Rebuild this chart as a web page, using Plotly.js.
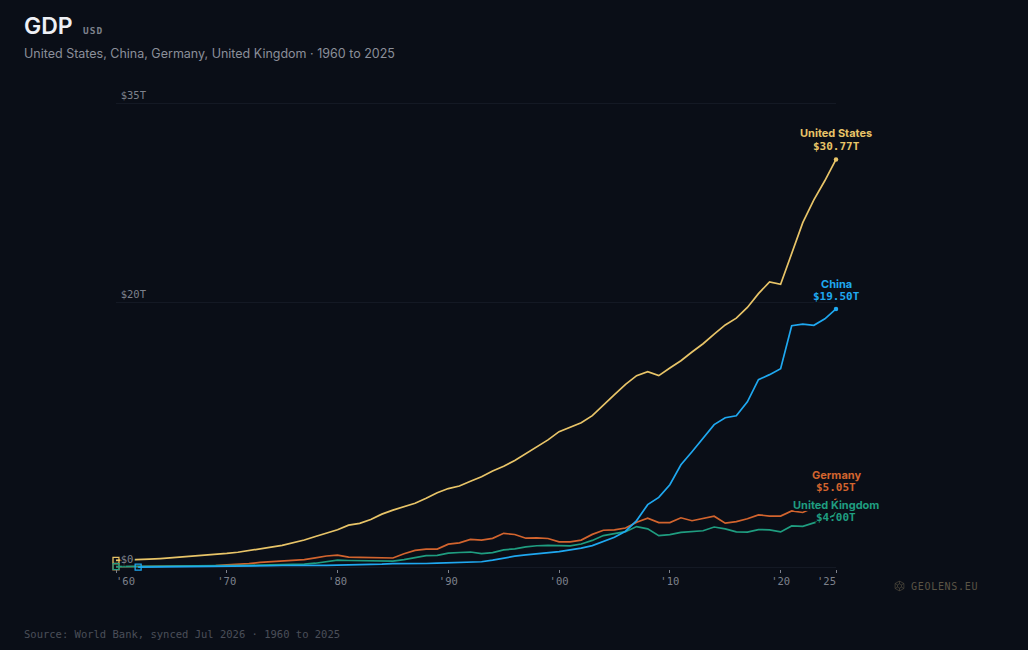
<!DOCTYPE html>
<html><head><meta charset="utf-8">
<script src="https://cdn.plot.ly/plotly-3.0.1.min.js"></script>
<style>html,body{margin:0;padding:0;background:#0a0e17}#c{width:1028px;height:650px}</style>
</head><body><div id="c"></div>
<script>
const usYears = [1960,1961,1962,1963,1964,1965,1966,1967,1968,1969,1970,1971,1972,1973,1974,1975,1976,1977,1978,1979,1980,1981,1982,1983,1984,1985,1986,1987,1988,1989,1990,1991,1992,1993,1994,1995,1996,1997,1998,1999,2000,2001,2002,2003,2004,2005,2006,2007,2008,2009,2010,2011,2012,2013,2014,2015,2016,2017,2018,2019,2020,2021,2022,2023,2024,2025];
const usValues = [.543,.563,.605,.639,.686,.744,.815,.862,.943,1.019,1.073,1.165,1.279,1.425,1.545,1.684,1.873,2.082,2.352,2.627,2.857,3.207,3.344,3.634,4.037,4.339,4.580,4.855,5.236,5.642,5.963,6.158,6.520,6.859,7.287,7.640,8.073,8.578,9.063,9.631,10.251,10.582,10.929,11.457,12.217,13.039,13.816,14.474,14.770,14.478,15.049,15.600,16.254,16.880,17.608,18.295,18.805,19.612,20.656,21.540,21.354,23.681,26.007,27.721,29.18,30.77];
const chinaYears = usYears.slice(2);
const chinaValues = [.047,.051,.060,.070,.076,.074,.071,.080,.093,.100,.114,.139,.144,.163,.154,.175,.150,.178,.191,.195,.205,.230,.260,.310,.301,.273,.313,.347,.361,.383,.427,.445,.564,.737,.864,.962,1.03,1.09,1.21,1.34,1.47,1.66,1.95,2.29,2.75,3.55,4.75,5.30,6.25,7.76,8.74,9.80,10.78,11.30,11.45,12.50,14.17,14.55,15.0,18.24,18.35,18.27,18.76,19.50];
const deYears = usYears;
const deValues = [.07,.08,.09,.095,.105,.115,.12,.125,.14,.16,.216,.249,.30,.398,.445,.49,.519,.60,.74,.88,.95,.80,.78,.77,.71,.73,1.05,1.30,1.40,1.40,1.77,1.87,2.13,2.07,2.21,2.59,2.50,2.22,2.24,2.20,1.95,1.95,2.08,2.51,2.82,2.85,2.99,3.42,3.73,3.40,3.40,3.76,3.54,3.73,3.88,3.36,3.47,3.69,3.98,3.89,3.89,4.28,4.16,4.53,4.66,5.05];
const ukYears = usYears;
const ukValues = [.073,.078,.082,.087,.094,.100,.107,.113,.108,.113,.131,.148,.170,.193,.206,.241,.233,.263,.336,.438,.565,.541,.516,.489,.462,.489,.601,.745,.910,.926,1.093,1.142,1.179,1.061,1.140,1.345,1.419,1.561,1.653,1.688,1.665,1.643,1.786,2.055,2.421,2.544,2.713,3.097,2.929,2.412,2.486,2.664,2.707,2.784,3.065,2.928,2.695,2.681,2.872,2.851,2.698,3.143,3.114,3.38,3.64,4.00];
const seriesNames = ["United States","Germany","United Kingdom","China"];
const valueLabels = ["$30.77T","$5.05T","$4.00T","$19.50T"];
const xTickVals = [1960,1970,1980,1990,2000,2010,2020,2025];
const xTickText = ["\u00a0\u00a0\u00a0'60","'70","'80","'90","'00","'10","'20","'25\u00a0\u00a0\u00a0"];
const yTickVals = [0,20,35];
const yTickText = ["$0\u00a0\u00a0","$20T","$35T"];

const colors = ["#e8c468","#d2642e","#1f9d80","#1fa8f0"];
const BG = "#0a0e17", MONO = "DejaVu Sans Mono, monospace", SANS = "Inter, sans-serif";
const xs = [usYears,deYears,ukYears,chinaYears], ys = [usValues,deValues,ukValues,chinaValues];
const PLOT_BOTTOM = 569.5, PLOT_H = 467.1;

const traces = seriesNames.map((n,i)=>{
  const len = xs[i].length;
  return {x:xs[i],y:ys[i],name:n,type:"scatter",mode:"lines+markers",cliponaxis:false,
    line:{color:colors[i],width:1.7},
    marker:{color:colors[i],opacity:1,
      size:xs[i].map((_,k)=>k===0?6:(k===len-1?4.5:0)),
      symbol:xs[i].map((_,k)=>k===0?"square-open":"circle"),
      line:{color:colors[i],width:xs[i].map((_,k)=>k===0?1.3:0)}},
    hoverinfo:"x+y"};
});
const halo = [[-2,0],[2,0],[0,-2],[0,2],[-1.5,-1.5],[1.5,1.5],[-1.5,1.5],[1.5,-1.5]].map(p=>`${p[0]}px ${p[1]}px 0 ${BG}`).join(",");
const anns = [];
const shifts = [[26,13],[26,13],[10,-3],[25,12]];
seriesNames.forEach((n,i)=>{
  const last = ys[i][ys[i].length-1];
  anns.push({x:2025,y:last,xref:"x",yref:"y",text:n,showarrow:false,xanchor:"center",yanchor:"middle",yshift:shifts[i][0],
    font:{family:SANS,size:11,color:colors[i],weight:700,shadow:halo}});
  anns.push({x:2025,y:last,xref:"x",yref:"y",text:valueLabels[i],showarrow:false,xanchor:"center",yanchor:"middle",yshift:shifts[i][1],
    font:{family:MONO,size:11,color:colors[i],weight:700,shadow:halo}});
});
const text = (x,y,t,size,color,family,weight)=>({xref:"paper",yref:"paper",x:(x-2-116)/720,y:(PLOT_BOTTOM-y)/PLOT_H,text:t,showarrow:false,xanchor:"left",yanchor:"middle",font:{family:family,size:size,color:color,weight:weight||400}});
anns.push(text(24,26,"GDP",23,"#eef0f5",SANS,600));
anns.push(text(83,31,"<span style='letter-spacing:1px'>USD</span>",9.5,"#7d818c",MONO,700));
anns.push(text(24,53.5,"United States, China, Germany, United Kingdom · 1960 to 2025",12.5,"#8b8f9a",SANS));
anns.push(text(24,635,"Source: World Bank, synced Jul 2026 · 1960 to 2025",10.5,"#4a4e59",MONO));
anns.push(text(911,587.5,"<span style='letter-spacing:0.7px'>GEOLENS.EU</span>",10,"#5a5445",MONO));

const iconSvg = "<svg xmlns='http://www.w3.org/2000/svg' width='20' height='20' viewBox='0 0 20 20'><g fill='none' stroke='#5a5445' stroke-width='1.1'><path d='M10 1 L18 5.5 L18 14.5 L10 19 L2 14.5 L2 5.5 Z'/><path d='M10 6 L13.5 8 L13.5 12 L10 14 L6.5 12 L6.5 8 Z'/><path d='M10 1 L10 6 M18 5.5 L13.5 8 M18 14.5 L13.5 12 M10 19 L10 14 M2 14.5 L6.5 12 M2 5.5 L6.5 8'/></g></svg>";

const layout = {
  width:1028,height:650,autosize:false,showlegend:false,
  paper_bgcolor:BG,plot_bgcolor:BG,
  margin:{l:116,r:192,t:PLOT_BOTTOM-PLOT_H,b:650-PLOT_BOTTOM,pad:0},
  font:{family:MONO,color:"#7d818c"},
  xaxis:{range:[1960,2025],tickmode:"array",tickvals:xTickVals,ticktext:xTickText,ticks:"outside",ticklen:3,tickwidth:1,tickcolor:"#7d818c",ticklabelstandoff:-1,
    showgrid:false,zeroline:false,showline:false,tickfont:{family:MONO,size:10.5,color:"#7d818c"},tickangle:0},
  yaxis:{range:[-0.1,35.1],tickmode:"array",tickvals:yTickVals,ticktext:yTickText,ticks:"",ticklabelstandoff:-31,ticklabelshift:-8,
    gridcolor:"#141924",gridwidth:1,zeroline:false,showline:false,tickfont:{family:MONO,size:10.5,color:"#7d818c",shadow:halo}},
  annotations:anns,
  images:[{source:"data:image/svg+xml;utf8,"+encodeURIComponent(iconSvg),xref:"paper",yref:"paper",x:(894-116)/720,y:(PLOT_BOTTOM-581)/PLOT_H,sizex:11/720,sizey:11/PLOT_H,xanchor:"left",yanchor:"top",layer:"above"}]
};
Plotly.newPlot("c",traces,layout,{displayModeBar:false,responsive:false,staticPlot:true});
</script></body></html>
